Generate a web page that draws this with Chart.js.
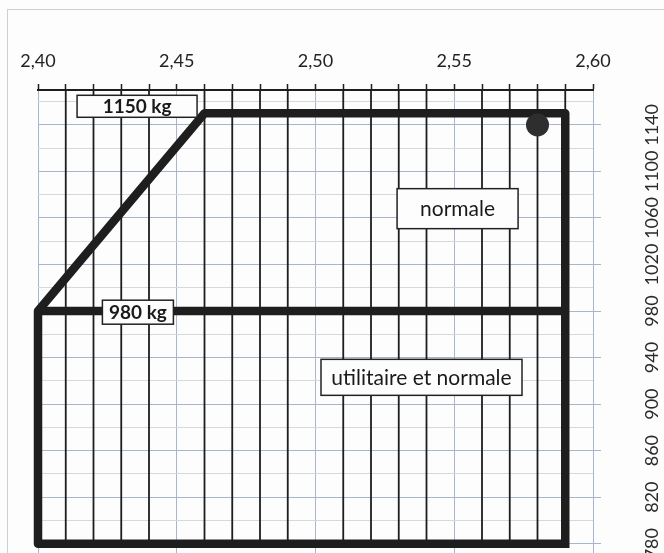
<!DOCTYPE html>
<html>
<head>
<meta charset="utf-8">
<script src="https://cdn.jsdelivr.net/npm/chart.js@4"></script>
<style>
  html, body { margin: 0; padding: 0; background: #fdfdfd; }
  #wrap { position: relative; width: 664px; height: 553px; overflow: hidden; }
  #frame { position: absolute; left: 7px; top: 9px; right: 0; bottom: 0;
           border-top: 1px solid #cbd0d6; border-left: 1px solid #cbd0d6; }
  canvas { position: absolute; left: 0; top: 0; }
</style>
</head>
<body>
<div id="wrap">
  <div id="frame"></div>
  <canvas id="envelope-chart" width="664" height="553"></canvas>
</div>
<script>
// Axis values
const xMajor = [2.40, 2.45, 2.50, 2.55, 2.60];
const xMajorLabels = ["2,40", "2,45", "2,50", "2,55", "2,60"];
const xMinor = [2.41, 2.42, 2.43, 2.44, 2.46, 2.47, 2.48, 2.49, 2.51, 2.52, 2.53, 2.54, 2.56, 2.57, 2.58, 2.59];
const yGrid = [780, 800, 820, 840, 860, 880, 900, 920, 940, 960, 980, 1000, 1020, 1040, 1060, 1080, 1100, 1120, 1140, 1160];
const yLabelled = [780, 820, 860, 900, 940, 980, 1020, 1060, 1100, 1140];
const X_MIN = 2.40, X_MAX = 2.60;
const Y_MIN = 772, Y_MAX = 1170;
const GRID_BOTTOM = 780;

// Envelope (centrage en m, masse en kg)
const envelopeX = [2.59, 2.40, 2.40, 2.46, 2.59, 2.59];
const envelopeY = [780, 780, 980, 1150, 1150, 780];
const utilityX = [2.40, 2.59];
const utilityY = [980, 980];

// Point de centrage
const cgX = [2.58];
const cgY = [1140];

// Text boxes (anchored in data units)
const boxes = [
    { text: "1150 kg", x: 2.4357, y: 1156, w: 120, h: 22, bold: true },
    { text: "980 kg", x: 2.436, y: 979, w: 71, h: 24, bold: true },
    { text: "normale", x: 2.5512, y: 1068, w: 121, h: 40, bold: false },
    { text: "utilitaire et normale", x: 2.5382, y: 923, w: 201, h: 36, bold: false }
];

const BLUE_GRID = "#a9b5cc";
const GREY_GRID = "#d5d8dd";
const INK = "#1e1e1e";

const near = (a, b) => Math.abs(a - b) < 1e-6;
const toPoints = (xs, ys) => xs.map((x, i) => ({ x: x, y: ys[i] }));

// thin vertical rules, one segment per minor tick, split with gaps
const ruleData = xMinor.flatMap(x => [{ x: x, y: GRID_BOTTOM }, { x: x, y: Y_MAX }, { x: x, y: null }]);

const boxPlugin = {
    id: "boxes",
    afterDatasetsDraw(chart) {
        const ctx = chart.ctx;
        const xs = chart.scales.x, ys = chart.scales.y;
        ctx.save();
        boxes.forEach(b => {
            const px = xs.getPixelForValue(b.x);
            const py = ys.getPixelForValue(b.y);
            ctx.fillStyle = "#fdfdfd";
            ctx.fillRect(px - b.w / 2, py - b.h / 2, b.w, b.h);
            ctx.strokeStyle = "#222";
            ctx.lineWidth = 1.5;
            ctx.strokeRect(px - b.w / 2, py - b.h / 2, b.w, b.h);
            ctx.fillStyle = "#1a1a1a";
            ctx.font = b.bold ? "bold 19px Lato" : "21px Lato";
            ctx.textAlign = "center";
            ctx.textBaseline = "middle";
            ctx.fillText(b.text, px, py + 1);
        });
        ctx.restore();
    }
};

const ctx = document.getElementById("envelope-chart").getContext("2d");

new Chart(ctx, {
    type: "scatter",
    data: {
        datasets: [
            {
                label: "rules",
                data: ruleData,
                showLine: true,
                spanGaps: false,
                borderColor: INK,
                borderWidth: 1.8,
                pointRadius: 0,
                clip: false,
                order: 3
            },
            {
                label: "enveloppe",
                data: toPoints(envelopeX, envelopeY),
                showLine: true,
                borderColor: INK,
                borderWidth: 8.5,
                borderJoinStyle: "round",
                borderCapStyle: "square",
                pointRadius: 0,
                clip: false,
                order: 2
            },
            {
                label: "980 kg",
                data: toPoints(utilityX, utilityY),
                showLine: true,
                borderColor: INK,
                borderWidth: 8.5,
                pointRadius: 0,
                clip: false,
                order: 2
            },
            {
                label: "centrage",
                data: toPoints(cgX, cgY),
                pointRadius: 11.5,
                pointBackgroundColor: "#2e2e2e",
                pointBorderWidth: 0,
                clip: false,
                order: 1
            }
        ]
    },
    options: {
        responsive: false,
        animation: false,
        layout: { autoPadding: false, padding: { left: 38, top: 0, right: 0, bottom: 0 } },
        plugins: {
            legend: { display: false },
            tooltip: { enabled: false }
        },
        scales: {
            x: {
                type: "linear",
                position: "top",
                min: X_MIN,
                max: X_MAX,
                afterBuildTicks: s => {
                    s.ticks = [...xMajor, ...xMinor].sort((a, b) => a - b).map(v => ({ value: v }));
                },
                afterFit: s => {
                    s.height = 90;
                    s.paddingLeft = 0; s.paddingRight = 0;
                },
                border: { display: true, color: INK, width: 2 },
                grid: {
                    color: c => (c.tick && xMajor.some(v => near(v, c.tick.value))) ? BLUE_GRID : "rgba(0,0,0,0)",
                    lineWidth: 1,
                    tickLength: 6,
                    tickColor: INK,
                    tickWidth: 1.5
                },
                ticks: {
                    autoSkip: false,
                    maxRotation: 0,
                    padding: 12,
                    color: "#222",
                    font: { family: "Lato", size: 18 },
                    callback: v => {
                        const i = xMajor.findIndex(m => near(m, v));
                        return i >= 0 ? xMajorLabels[i] : "";
                    }
                }
            },
            y: {
                type: "linear",
                position: "right",
                min: Y_MIN,
                max: Y_MAX,
                afterBuildTicks: s => {
                    s.ticks = yGrid.map(v => ({ value: v }));
                },
                afterFit: s => {
                    s.width = 71;
                    s.paddingTop = 0; s.paddingBottom = 0;
                },
                border: { display: false },
                grid: {
                    color: c => (c.tick && yLabelled.includes(c.tick.value)) ? BLUE_GRID : GREY_GRID,
                    lineWidth: 1,
                    tickLength: 8,
                    tickColor: c => (c.tick && yLabelled.includes(c.tick.value)) ? BLUE_GRID : "rgba(0,0,0,0)"
                },
                ticks: {
                    autoSkip: false,
                    minRotation: 90,
                    maxRotation: 90,
                    crossAlign: "center",
                    padding: 30,
                    color: "#2a2a2a",
                    font: { family: "Lato", size: 18 },
                    callback: v => yLabelled.includes(v) ? String(v) : ""
                }
            }
        }
    },
    plugins: [boxPlugin]
});
</script>
</body>
</html>
